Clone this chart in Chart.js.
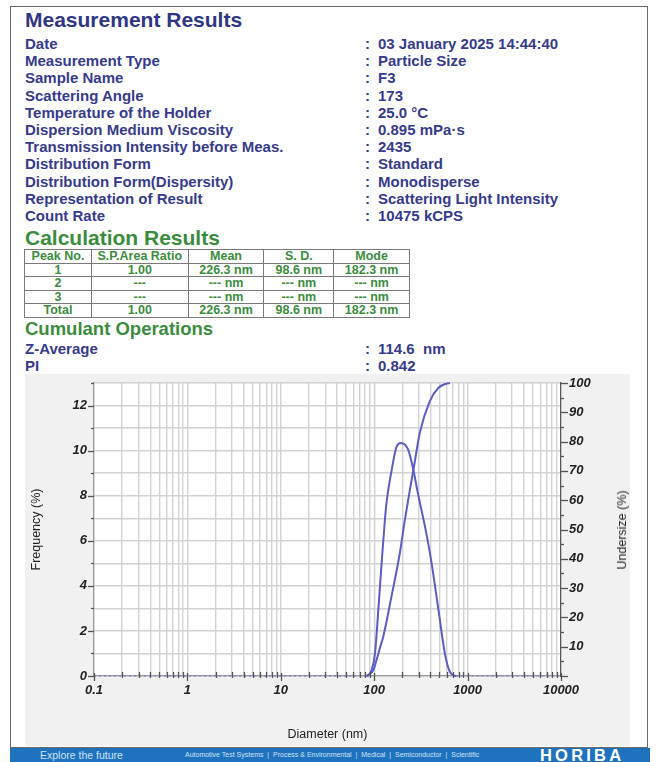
<!DOCTYPE html>
<html>
<head>
<meta charset="utf-8">
<script src="https://cdn.jsdelivr.net/npm/chart.js@4/dist/chart.umd.min.js"></script>
<style>
  html, body { margin: 0; padding: 0; background: #ffffff; }
  body { width: 657px; height: 762px; position: relative; overflow: hidden; font-family: "Liberation Sans", Arial, sans-serif; }
  .frame { position: absolute; left: 10px; top: 6px; width: 638px; height: 742px; border: 1.5px solid #6a6a6a; box-sizing: border-box; }
  .h1 { position: absolute; left: 25px; font-weight: bold; font-size: 21px; line-height: 24px; color: #2f3686; white-space: nowrap; }
  .green { color: #3c8c3e; }
  .rows { position: absolute; left: 25px; font-weight: bold; font-size: 15px; line-height: 17.2px; color: #363b8c; }
  .rows div { position: relative; height: 17.2px; white-space: nowrap; }
  .rows .c { position: absolute; left: 340px; }
  .rows .v { position: absolute; left: 353px; }
  table { position: absolute; left: 24px; top: 249px; width: 386px; border-collapse: collapse; font-weight: bold; font-size: 12.5px; color: #3c8c3e; }
  td { border: 1.5px solid #7a7a7a; text-align: center; height: 12.6px; line-height: 12.6px; padding: 0; }
  .panel { position: absolute; left: 25px; top: 374px; width: 605px; height: 372px; }
  .rtitle { position: absolute; left: 622px; top: 530px; transform: translate(-50%, -50%) rotate(-90deg); font-size: 12.5px; color: #222; white-space: nowrap; }
  .footer { position: absolute; left: 10px; top: 748px; width: 640px; height: 14px; background: #1f72bd; }
  .footer span { position: absolute; top: 0; line-height: 14px; white-space: nowrap; }
</style>
</head>
<body>
<div class="frame"></div>
<div class="h1" style="top:8px;">Measurement Results</div>
<div class="rows" style="top:35px;">
  <div>Date<span class="c">:</span><span class="v">03 January 2025 14:44:40</span></div>
  <div>Measurement Type<span class="c">:</span><span class="v">Particle Size</span></div>
  <div>Sample Name<span class="c">:</span><span class="v">F3</span></div>
  <div>Scattering Angle<span class="c">:</span><span class="v">173</span></div>
  <div>Temperature of the Holder<span class="c">:</span><span class="v">25.0 °C</span></div>
  <div>Dispersion Medium Viscosity<span class="c">:</span><span class="v">0.895 mPa·s</span></div>
  <div>Transmission Intensity before Meas.<span class="c">:</span><span class="v">2435</span></div>
  <div>Distribution Form<span class="c">:</span><span class="v">Standard</span></div>
  <div>Distribution Form(Dispersity)<span class="c">:</span><span class="v">Monodisperse</span></div>
  <div>Representation of Result<span class="c">:</span><span class="v">Scattering Light Intensity</span></div>
  <div>Count Rate<span class="c">:</span><span class="v">10475 kCPS</span></div>
</div>
<div class="h1 green" style="top:226px;">Calculation Results</div>
<table id="calc"></table>
<div class="h1 green" style="top:317px; font-size:18.5px;">Cumulant Operations</div>
<div class="rows green" style="top:340px;">
  <div>Z-Average<span class="c">:</span><span class="v">114.6&nbsp; nm</span></div>
  <div>PI<span class="c">:</span><span class="v">0.842</span></div>
</div>
<div class="panel"><canvas id="chart" width="605" height="372"></canvas></div>
<div class="rtitle">Undersize (%)</div>
<div class="footer">
  <span style="left:30px; font-size:10.5px; color:#cfe2f6;">Explore the future</span>
  <span style="left:175px; font-size:7px; color:#cfe2f6;">Automotive Test Systems &nbsp;|&nbsp; Process &amp; Environmental &nbsp;|&nbsp; Medical &nbsp;|&nbsp; Semiconductor &nbsp;|&nbsp; Scientific</span>
  <span style="left:530px; font-size:16.5px; font-weight:bold; color:#ffffff; letter-spacing:3.2px;">HORIBA</span>
</div>
<script>
// ---- table data ----
const TABLE_HEADER = ['Peak No.', 'S.P.Area Ratio', 'Mean', 'S. D.', 'Mode'];
const TABLE_ROWS = [
  ['1', '1.00', '226.3 nm', '98.6 nm', '182.3 nm'],
  ['2', '---', '--- nm', '--- nm', '--- nm'],
  ['3', '---', '--- nm', '--- nm', '--- nm'],
  ['Total', '1.00', '226.3 nm', '98.6 nm', '182.3 nm']
];
const COL_WIDTHS = [67, 97, 76, 70, 76];

// ---- chart data ----
const FREQ_DIAMETER = [0.1, 83, 94, 102, 111, 120, 130, 136, 153, 174, 193, 231, 262, 296, 335, 364, 412, 485, 571, 646, 762, 10000];
const FREQ_VALUES   = [0,   0,  0.27, 1.0, 3.0, 5.0, 6.9, 7.75, 9.08, 10.19, 10.34, 10.04, 9.16, 8.04, 7.0, 6.27, 5.0, 3.0, 1.0, 0.19, 0, 0];
const UNDER_DIAMETER = [83, 86, 98, 106, 115, 125, 153, 188, 213, 241, 262, 308, 394, 485, 596, 646];
const UNDER_VALUES   = [0, 0.3, 2.0, 5.5, 9.5, 13.4, 27.1, 41.9, 53.3, 63.5, 70.0, 83.0, 93.8, 98.3, 99.8, 100];
const X_DECADES = [0.1, 1, 10, 100, 1000, 10000];
const X_TICK_LABELS = ['0.1', '1', '10', '100', '1000', '10000'];
const Y_LEFT_LABELS = [0, 2, 4, 6, 8, 10, 12];
const Y_RIGHT_LABELS = [10, 20, 30, 40, 50, 60, 70, 80, 90, 100];

// build table
(function () {
  const t = document.getElementById('calc');
  const all = [TABLE_HEADER].concat(TABLE_ROWS);
  all.forEach(r => {
    const tr = document.createElement('tr');
    r.forEach((c, i) => {
      const td = document.createElement('td');
      td.textContent = c;
      td.style.width = COL_WIDTHS[i] + 'px';
      tr.appendChild(td);
    });
    t.appendChild(tr);
  });
})();

const minorTicks = [];
X_DECADES.forEach((d, i) => {
  minorTicks.push(d);
  if (i < X_DECADES.length - 1) for (let k = 2; k <= 9; k++) minorTicks.push(+(d * k).toPrecision(6));
});

const LINE = '#5a5ec0';
const tickFont = { family: '"Liberation Sans", Arial, sans-serif', size: 13, weight: 'bold', style: 'italic' };
const titleFont = { family: '"Liberation Sans", Arial, sans-serif', size: 12.5 };

const bgPlugin = {
  id: 'bg',
  beforeDraw(chart) {
    const { ctx, chartArea: a } = chart;
    ctx.save();
    ctx.fillStyle = '#f1f1f1';
    ctx.fillRect(0, 0, chart.width, chart.height);
    ctx.fillStyle = '#ffffff';
    ctx.fillRect(a.left, a.top, a.right - a.left, a.bottom - a.top);
    ctx.restore();
  },
  afterDraw(chart) {
    const { ctx, chartArea: a, scales } = chart;
    ctx.save();
    ctx.strokeStyle = '#555';
    ctx.lineWidth = 1.3;
    for (let v = 0; v <= 13; v++) {
      const y = Math.round(scales.y.getPixelForValue(v)) + 0.5;
      const len = v % 2 === 0 ? 6 : 3;
      ctx.beginPath(); ctx.moveTo(a.left - len, y); ctx.lineTo(a.left, y); ctx.stroke();
    }
    for (let v = 0; v <= 100; v += 5) {
      const y = Math.round(scales.y2.getPixelForValue(v)) + 0.5;
      const len = v % 10 === 0 ? 7 : 3;
      ctx.beginPath(); ctx.moveTo(a.right, y); ctx.lineTo(a.right + len, y); ctx.stroke();
    }
    minorTicks.forEach(v => {
      const x = Math.round(scales.x.getPixelForValue(v)) + 0.5;
      const major = X_DECADES.includes(v);
      ctx.beginPath();
      ctx.moveTo(x, a.bottom - (major ? 3 : 4));
      ctx.lineTo(x, a.bottom + (major ? 5 : 2));
      ctx.stroke();
    });
    ctx.restore();
  }
};

const fitY = s => { s.width = 69; s.paddingTop = 0; s.paddingBottom = 0; };

new Chart(document.getElementById('chart'), {
  type: 'line',
  data: {
    datasets: [
      {
        label: 'Frequency',
        data: FREQ_DIAMETER.map((d, i) => ({ x: d, y: FREQ_VALUES[i] })),
        yAxisID: 'y',
        borderColor: LINE,
        borderWidth: 2,
        pointRadius: 0,
        cubicInterpolationMode: 'monotone',
        clip: 4,
        segment: {
          borderDash: c => (c.p0.parsed.y === 0 && c.p1.parsed.y === 0) ? [2, 3] : undefined,
          borderColor: c => (c.p0.parsed.y === 0 && c.p1.parsed.y === 0) ? 'rgba(120,120,220,0.55)' : undefined
        }
      },
      {
        label: 'Undersize',
        data: UNDER_DIAMETER.map((d, i) => ({ x: d, y: UNDER_VALUES[i] })),
        yAxisID: 'y2',
        borderColor: LINE,
        borderWidth: 2,
        pointRadius: 0,
        cubicInterpolationMode: 'monotone',
        clip: 4
      }
    ]
  },
  options: {
    responsive: false,
    animation: false,
    layout: { padding: { top: 9, left: 0, right: 0, bottom: 0 } },
    plugins: { legend: { display: false }, tooltip: { enabled: false } },
    scales: {
      x: {
        type: 'logarithmic',
        min: 0.1,
        max: 10000,
        afterBuildTicks: s => { s.ticks = minorTicks.map(v => ({ value: v })); },
        afterFit: s => { s.height = 70; },
        grid: { color: '#d2d2d2', lineWidth: 1.4, drawTicks: false },
        border: { color: '#9a9a9a', width: 1.2 },
        ticks: {
          autoSkip: false, maxRotation: 0, padding: 7, color: '#222', font: tickFont,
          callback: v => { const i = X_DECADES.indexOf(v); return i >= 0 ? X_TICK_LABELS[i] : ''; }
        },
        title: { display: true, text: 'Diameter (nm)', color: '#222', font: titleFont }
      },
      y: {
        position: 'left',
        min: 0,
        max: 13,
        afterBuildTicks: s => { const t = []; for (let v = 0; v <= 13; v++) t.push({ value: v }); s.ticks = t; },
        afterFit: fitY,
        grid: { color: '#d2d2d2', lineWidth: 1.4, drawTicks: false },
        border: { color: '#9a9a9a', width: 1.2 },
        ticks: {
          padding: 7, color: '#222', font: tickFont,
          callback: v => Y_LEFT_LABELS.includes(v) ? String(v) : ''
        },
        title: { display: true, text: 'Frequency (%)', color: '#222', font: titleFont }
      },
      y2: {
        position: 'right',
        min: 0,
        max: 100,
        afterBuildTicks: s => { const t = []; for (let v = 0; v <= 100; v += 5) t.push({ value: v }); s.ticks = t; },
        afterFit: fitY,
        grid: { drawOnChartArea: false, drawTicks: false },
        border: { color: '#555', width: 1.2 },
        ticks: {
          padding: 8, color: '#222', font: tickFont,
          callback: v => Y_RIGHT_LABELS.includes(v) ? String(v) : ''
        },
        title: { display: false }
      }
    }
  },
  plugins: [bgPlugin]
});
</script>
</body>
</html>
